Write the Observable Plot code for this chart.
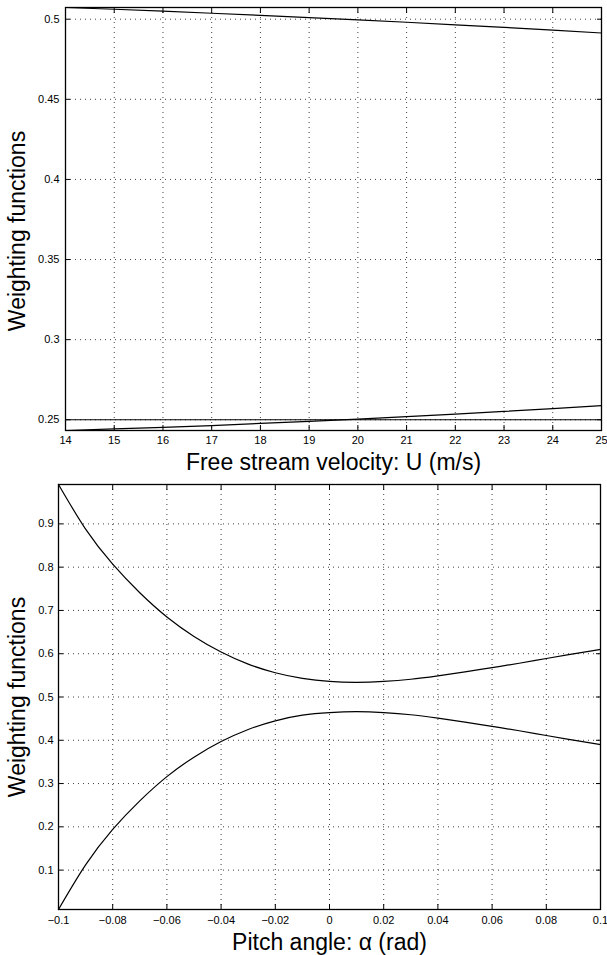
<!DOCTYPE html>
<html>
<head>
<meta charset="utf-8">
<script src="https://cdn.jsdelivr.net/npm/d3@7"></script>
<script src="https://cdn.jsdelivr.net/npm/@observablehq/plot@0.6"></script>
<style>
  body { margin: 0; background: #fff; }
  #chart svg { display: block; }
</style>
</head>
<body>
<div id="chart"></div>
<script>
// ---------- Panel 1: weighting functions vs free stream velocity ----------
const velocity = [14, 15, 16, 17, 18, 19, 20, 21, 22, 23, 24, 25];
const weightHigh = [0.5073, 0.5062, 0.5050, 0.5037, 0.5024, 0.5010, 0.4996, 0.4981, 0.4965, 0.4949, 0.4932, 0.4914];
const weightMid  = [0.25, 0.25, 0.25, 0.25, 0.25, 0.25, 0.25, 0.25, 0.25, 0.25, 0.25, 0.25];
const weightLow  = [0.2433, 0.2443, 0.2453, 0.2464, 0.2477, 0.2490, 0.2504, 0.2519, 0.2535, 0.2552, 0.2570, 0.2588];
const velocityTicks = [14, 15, 16, 17, 18, 19, 20, 21, 22, 23, 24, 25];
const velocityTickLabels = ["14", "15", "16", "17", "18", "19", "20", "21", "22", "23", "24", "25"];
const weightTicks1 = [0.25, 0.3, 0.35, 0.4, 0.45, 0.5];
const weightTickLabels1 = ["0.25", "0.3", "0.35", "0.4", "0.45", "0.5"];
const xLabel1 = "Free stream velocity: U (m/s)";

// ---------- Panel 2: weighting functions vs pitch angle ----------
const pitch = [-0.1, -0.09, -0.08, -0.07, -0.06, -0.05, -0.04, -0.03, -0.02, -0.01, 0, 0.01, 0.02, 0.03, 0.04, 0.05, 0.06, 0.07, 0.08, 0.09, 0.1];
const pitchUpper = [0.991, 0.888, 0.807, 0.741, 0.685, 0.640, 0.604, 0.576, 0.556, 0.543, 0.536, 0.534, 0.536, 0.541, 0.549, 0.558, 0.568, 0.578, 0.589, 0.5995, 0.610];
const pitchLower = [0.009, 0.112, 0.194, 0.260, 0.316, 0.361, 0.397, 0.425, 0.445, 0.458, 0.464, 0.466, 0.464, 0.459, 0.451, 0.442, 0.432, 0.422, 0.411, 0.4005, 0.390];
const pitchTicks = [-0.1, -0.08, -0.06, -0.04, -0.02, 0, 0.02, 0.04, 0.06, 0.08, 0.1];
const pitchTickLabels = ["\u22120.1", "\u22120.08", "\u22120.06", "\u22120.04", "\u22120.02", "0", "0.02", "0.04", "0.06", "0.08", "0.1"];
const weightTicks2 = [0.1, 0.2, 0.3, 0.4, 0.5, 0.6, 0.7, 0.8, 0.9];
const weightTickLabels2 = ["0.1", "0.2", "0.3", "0.4", "0.5", "0.6", "0.7", "0.8", "0.9"];
const xLabel2 = "Pitch angle: \u03b1 (rad)";

const yLabel = "Weighting functions";

const FONT = "'Liberation Sans', Arial, Helvetica, sans-serif";

function frameMarks(xTicks, xTickLabels, yTicks, yTickLabels, xPad, yPad) {
  const fx = d => xTickLabels[xTicks.indexOf(d)];
  const fy = d => yTickLabels[yTicks.indexOf(d)];
  const grid = {stroke: "#000", strokeOpacity: 0.75, strokeDasharray: "1,4", strokeWidth: 1};
  return [
    Plot.gridX(xTicks, grid),
    Plot.gridY(yTicks, grid),
    // inward ticks on all four sides
    Plot.axisX(xTicks, {anchor: "bottom", tickSize: 5, dy: -5, fill: "none", label: null, stroke: "#000"}),
    Plot.axisX(xTicks, {anchor: "top", tickSize: 5, dy: 5, fill: "none", label: null, stroke: "#000"}),
    Plot.axisY(yTicks, {anchor: "left", tickSize: 5, dx: 5, fill: "none", label: null, stroke: "#000"}),
    Plot.axisY(yTicks, {anchor: "right", tickSize: 5, dx: -5, fill: "none", label: null, stroke: "#000"}),
    // tick labels
    Plot.axisX(xTicks, {anchor: "bottom", tickSize: 0, tickPadding: xPad, tickFormat: fx, label: null, fontSize: 11, fill: "#000"}),
    Plot.axisY(yTicks, {anchor: "left", tickSize: 0, tickPadding: yPad, tickFormat: fy, label: null, fontSize: 11, fill: "#000"}),
    Plot.frame({stroke: "#000", strokeWidth: 1.3})
  ];
}

// Panel 1
const rows1 = velocity.flatMap((u, i) => [
  {u, w: weightHigh[i], s: "high"},
  {u, w: weightMid[i], s: "mid"},
  {u, w: weightLow[i], s: "low"}
]);
const all1 = [...weightHigh, ...weightMid, ...weightLow];

const chart1 = Plot.plot({
  width: 607,
  height: 475,
  marginTop: 7,
  marginBottom: 45,
  marginLeft: 65,
  marginRight: 6,
  style: {fontFamily: FONT, background: "#fff", color: "#000"},
  x: {domain: d3.extent(velocity), axis: null},
  y: {domain: d3.extent(all1), axis: null},
  marks: [
    ...frameMarks(velocityTicks, velocityTickLabels, weightTicks1, weightTickLabels1, 6, 6),
    Plot.line(rows1, {x: "u", y: "w", z: "s", stroke: "#000", strokeWidth: 1.2}),
    Plot.text([xLabel1], {frameAnchor: "bottom", dy: 32, fontSize: 23, lineAnchor: "middle", textAnchor: "middle", fill: "#000"}),
    Plot.text([yLabel], {frameAnchor: "left", rotate: -90, dx: -48, dy: 12, fontSize: 23, lineAnchor: "middle", textAnchor: "middle", fill: "#000"})
  ]
});

// Panel 2
const rows2 = pitch.flatMap((a, i) => [
  {a, w: pitchUpper[i], s: "upper"},
  {a, w: pitchLower[i], s: "lower"}
]);
const all2 = [...pitchUpper, ...pitchLower];

const chart2 = Plot.plot({
  width: 607,
  height: 480,
  marginTop: 9,
  marginBottom: 46,
  marginLeft: 58,
  marginRight: 7,
  style: {fontFamily: FONT, background: "#fff", color: "#000"},
  x: {domain: d3.extent(pitch), axis: null},
  y: {domain: d3.extent(all2), axis: null},
  marks: [
    ...frameMarks(pitchTicks, pitchTickLabels, weightTicks2, weightTickLabels2, 7, 5),
    Plot.line(rows2, {x: "a", y: "w", z: "s", stroke: "#000", strokeWidth: 1.2, curve: "natural"}),
    Plot.text([xLabel2], {frameAnchor: "bottom", dy: 33, fontSize: 23, lineAnchor: "middle", textAnchor: "middle", fill: "#000"}),
    Plot.text([yLabel], {frameAnchor: "left", rotate: -90, dx: -41, fontSize: 23, lineAnchor: "middle", textAnchor: "middle", fill: "#000"})
  ]
});

document.getElementById("chart").append(chart1, chart2);
</script>
</body>
</html>
